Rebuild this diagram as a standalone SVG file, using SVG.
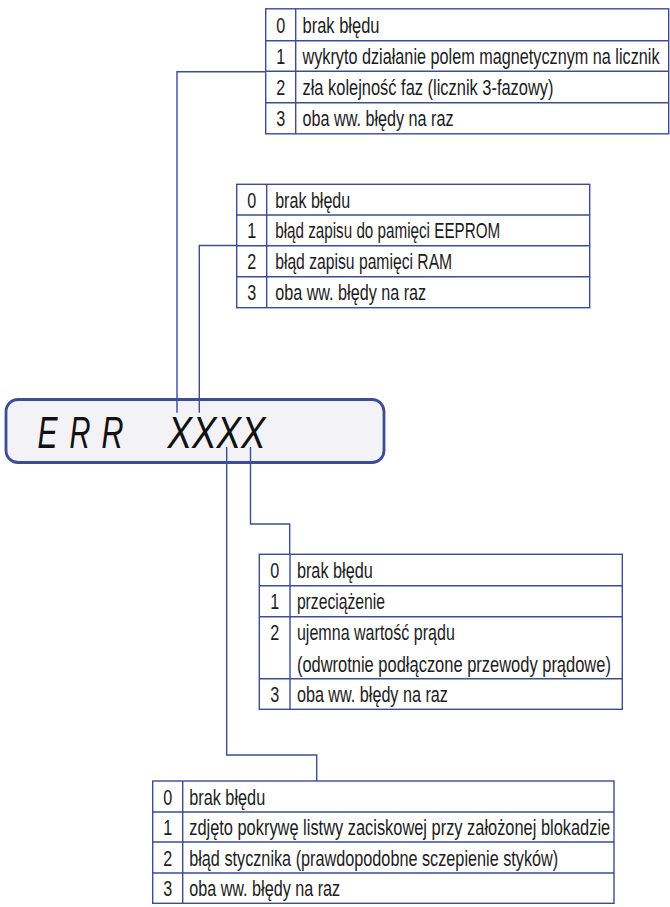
<svg xmlns="http://www.w3.org/2000/svg" width="670" height="907" viewBox="0 0 670 907">
  <style>
    .grid { fill: #ffffff; stroke: #3c4c9c; stroke-width: 1.4; }
    .rule { fill: none; stroke: #3c4c9c; stroke-width: 1.4; }
    .wire { fill: none; stroke: #3c4c9c; stroke-width: 1.4; }
    .lcd { fill: #f2f2f7; stroke: #3b4c9e; stroke-width: 2.8; }
    .t { font-family: "Liberation Sans", Arial, sans-serif; font-size: 22px; fill: #1c1c1c; }
    .d { text-anchor: middle; }
    .seg { font-family: "Liberation Sans", Arial, sans-serif; font-style: italic; font-size: 44px; fill: #111111; }
  </style>

  <!-- LCD display -->
  <g id="display">
    <rect class="lcd" x="6" y="399.5" width="378" height="63" rx="12" ry="12"/>
    <text class="seg" x="37.5" y="448.3" textLength="20" lengthAdjust="spacingAndGlyphs">E</text>
    <text class="seg" x="69.5" y="448.3" textLength="21" lengthAdjust="spacingAndGlyphs">R</text>
    <text class="seg" x="101.5" y="448.3" textLength="22" lengthAdjust="spacingAndGlyphs">R</text>
    <text class="seg" x="167.5" y="448.3" textLength="98" lengthAdjust="spacingAndGlyphs">XXXX</text>
  </g>

  <!-- Table: digit 1 -->
  <g id="table-digit1">
    <rect class="grid" x="265.7" y="8.8" width="403" height="125"/>
    <path class="rule" d="M265.7,40.7 H668.7 M265.7,71.2 H668.7 M265.7,102.8 H668.7 M295.7,8.8 V133.8"/>
    <text class="t d" x="280.7" y="32.8" textLength="9" lengthAdjust="spacingAndGlyphs">0</text>
    <text class="t d" x="280.7" y="64" textLength="9" lengthAdjust="spacingAndGlyphs">1</text>
    <text class="t d" x="280.7" y="95" textLength="9" lengthAdjust="spacingAndGlyphs">2</text>
    <text class="t d" x="280.7" y="126.3" textLength="9" lengthAdjust="spacingAndGlyphs">3</text>
    <text class="t" x="302.5" y="32.8" textLength="77" lengthAdjust="spacingAndGlyphs">brak błędu</text>
    <text class="t" x="302.5" y="64" textLength="357" lengthAdjust="spacingAndGlyphs">wykryto działanie polem magnetycznym na licznik</text>
    <text class="t" x="302.5" y="95" textLength="251" lengthAdjust="spacingAndGlyphs">zła kolejność faz (licznik 3-fazowy)</text>
    <text class="t" x="302.5" y="126.3" textLength="151" lengthAdjust="spacingAndGlyphs">oba ww. błędy na raz</text>
  </g>

  <!-- Table: digit 2 -->
  <g id="table-digit2">
    <rect class="grid" x="236.7" y="184.3" width="353" height="123.4"/>
    <path class="rule" d="M236.7,215 H589.7 M236.7,245.7 H589.7 M236.7,276.7 H589.7 M266.7,184.3 V307.7"/>
    <text class="t d" x="251.7" y="207.7" textLength="9" lengthAdjust="spacingAndGlyphs">0</text>
    <text class="t d" x="251.7" y="238.4" textLength="9" lengthAdjust="spacingAndGlyphs">1</text>
    <text class="t d" x="251.7" y="269.2" textLength="9" lengthAdjust="spacingAndGlyphs">2</text>
    <text class="t d" x="251.7" y="300.2" textLength="9" lengthAdjust="spacingAndGlyphs">3</text>
    <text class="t" x="275.2" y="207.7" textLength="75" lengthAdjust="spacingAndGlyphs">brak błędu</text>
    <text class="t" x="275.2" y="238.4" textLength="225" lengthAdjust="spacingAndGlyphs">błąd zapisu do pamięci EEPROM</text>
    <text class="t" x="275.2" y="269.2" textLength="177" lengthAdjust="spacingAndGlyphs">błąd zapisu pamięci RAM</text>
    <text class="t" x="275.2" y="300.2" textLength="151" lengthAdjust="spacingAndGlyphs">oba ww. błędy na raz</text>
  </g>

  <!-- Table: digit 3 -->
  <g id="table-digit3">
    <rect class="grid" x="259.3" y="554.3" width="363" height="155"/>
    <path class="rule" d="M259.3,585.7 H622.3 M259.3,616.7 H622.3 M259.3,678.7 H622.3 M290,554.3 V709.3"/>
    <text class="t d" x="274.7" y="578" textLength="9" lengthAdjust="spacingAndGlyphs">0</text>
    <text class="t d" x="274.7" y="609.2" textLength="9" lengthAdjust="spacingAndGlyphs">1</text>
    <text class="t d" x="274.7" y="640" textLength="9" lengthAdjust="spacingAndGlyphs">2</text>
    <text class="t d" x="274.7" y="702" textLength="9" lengthAdjust="spacingAndGlyphs">3</text>
    <text class="t" x="296.9" y="578" textLength="76" lengthAdjust="spacingAndGlyphs">brak błędu</text>
    <text class="t" x="296.9" y="609.2" textLength="88" lengthAdjust="spacingAndGlyphs">przeciążenie</text>
    <text class="t" x="296.9" y="640" textLength="158" lengthAdjust="spacingAndGlyphs">ujemna wartość prądu</text>
    <text class="t" x="296.9" y="671.7" textLength="314" lengthAdjust="spacingAndGlyphs">(odwrotnie podłączone przewody prądowe)</text>
    <text class="t" x="296.9" y="702" textLength="151" lengthAdjust="spacingAndGlyphs">oba ww. błędy na raz</text>
  </g>

  <!-- Table: digit 4 -->
  <g id="table-digit4">
    <rect class="grid" x="152.7" y="781" width="461.3" height="122.3"/>
    <path class="rule" d="M152.7,812 H614 M152.7,842 H614 M152.7,873 H614 M182.7,781 V903.3"/>
    <text class="t d" x="167.7" y="804.5" textLength="9" lengthAdjust="spacingAndGlyphs">0</text>
    <text class="t d" x="167.7" y="835" textLength="9" lengthAdjust="spacingAndGlyphs">1</text>
    <text class="t d" x="167.7" y="865.5" textLength="9" lengthAdjust="spacingAndGlyphs">2</text>
    <text class="t d" x="167.7" y="896.2" textLength="9" lengthAdjust="spacingAndGlyphs">3</text>
    <text class="t" x="189.2" y="804.5" textLength="76" lengthAdjust="spacingAndGlyphs">brak błędu</text>
    <text class="t" x="189.2" y="835" textLength="421" lengthAdjust="spacingAndGlyphs">zdjęto pokrywę listwy zaciskowej przy założonej blokadzie</text>
    <text class="t" x="189.2" y="865.5" textLength="369" lengthAdjust="spacingAndGlyphs">błąd stycznika (prawdopodobne sczepienie styków)</text>
    <text class="t" x="189.2" y="896.2" textLength="151" lengthAdjust="spacingAndGlyphs">oba ww. błędy na raz</text>
  </g>

  <!-- Connectors from each X position to its code table -->
  <g id="connectors">
    <path class="wire" d="M265.7,71.7 H177 V412.7"/>
    <path class="wire" d="M236.7,245.5 H199.3 V412.7"/>
    <path class="wire" d="M250.5,447 V524 H289.7 V554.3"/>
    <path class="wire" d="M226.7,447 V755 H316.7 V781"/>
  </g>
</svg>
